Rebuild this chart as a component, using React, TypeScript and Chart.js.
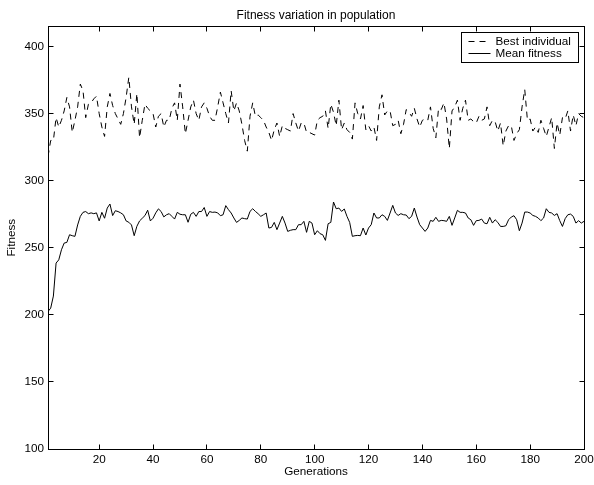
import React, { useEffect, useRef } from 'react';
import { Chart, registerables } from 'chart.js';

Chart.register(...registerables);

const chartTitle = 'Fitness variation in population';
const xTitle = 'Generations';
const yTitle = 'Fitness';
const seriesNames = ['Best individual', 'Mean fitness'];

const generations = Array.from({ length: 200 }, (_, i) => i + 1);

const bestIndividual = [
  318, 330, 330, 347, 340, 345, 352, 362, 355, 336,
  345, 355, 372, 367, 347, 357, 358, 361, 363, 350,
  340, 333, 355, 365, 356, 350, 346, 342, 350, 362,
  377, 355, 342, 365, 332, 345, 357, 354, 352, 350,
  340, 348, 350, 340, 345, 345, 354, 358, 345, 372,
  355, 335, 345, 355, 360, 350, 345, 355, 358, 354,
  348, 345, 345, 355, 366, 358, 350, 343, 367, 352,
  358, 352, 342, 330, 322, 348, 358, 348, 349, 347,
  345, 340, 336, 330, 338, 343, 333, 341, 339, 338,
  337, 350, 343, 337, 343, 343, 336, 336, 335, 334,
  345, 347, 348, 352, 339, 357, 351, 341, 360, 338,
  343, 338, 336, 331, 358, 350, 346, 356, 338, 341,
  337, 340, 330, 355, 364, 349, 352, 352, 341, 342,
  345, 335, 342, 353, 351, 348, 354, 346, 340, 345,
  346, 345, 355, 339, 332, 354, 353, 358, 346, 324,
  352, 355, 360, 345, 354, 360, 345, 346, 344, 343,
  348, 345, 346, 355, 341, 345, 344, 337, 343, 326,
  337, 341, 341, 330, 335, 338, 355, 368, 345, 346,
  337, 340, 336, 345, 339, 333, 340, 347, 324, 343,
  334, 347, 346, 352, 337, 349, 341, 350, 348, 347,
];

const meanFitness = [
  202.5, 205, 214, 238.6, 241, 248.5, 253.5, 254, 259.7, 259,
  258.5, 267, 273.4, 276.4, 277, 275.4, 276, 275.4, 276, 270,
  276.4, 272, 279.6, 282.6, 274, 277.6, 277, 276, 274.6, 270,
  269, 267, 259, 266, 270, 272, 274, 278, 270, 272,
  276, 279, 277, 273, 274.6, 275.4, 273.4, 271.4, 276.4, 275,
  274.6, 274.6, 269, 275, 276.4, 273.4, 277, 277, 280, 273.4,
  277, 276.4, 276.6, 276, 273.9, 274.6, 281.4, 278.4, 275.9, 272.2,
  268.9, 270.4, 272.2, 271.7, 271.4, 277.1, 279.1, 277.1, 275.4, 273.4,
  274.6, 275.9, 264.7, 265.2, 268.9, 263.5, 268.4, 273.4, 268.4, 262.2,
  263, 263.5, 263.5, 267.2, 267.2, 269.7, 261.5, 269.7, 268.4, 259.7,
  262.7, 260.5, 259.7, 255.5, 267.9, 268.9, 284.1, 279.1, 279.6, 277.1,
  278.9, 273.4, 268.9, 258.5, 259, 259.2, 259, 264.7, 259.5, 264.7,
  267.2, 275.9, 272.2, 272.2, 274.6, 273.4, 270.4, 275.9, 281.6, 275.9,
  274.1, 275.4, 274.6, 274.4, 271.7, 273.4, 279.6, 272.9, 267.2, 264.7,
  262.2, 264.7, 270.4, 269.7, 272.7, 269.7, 270.4, 270.2, 269.7, 273.4,
  266.7, 272.2, 277.9, 276.4, 276.4, 275.9, 272.2, 270.9, 266.7, 270.2,
  270.4, 271.4, 268.4, 267.9, 272.7, 268.4, 270.9, 268.9, 265.9, 265.9,
  266.4, 270.9, 272.9, 273.9, 270.9, 262.7, 268.4, 276.6, 276.6, 275.9,
  274.1, 273.4, 272.2, 270.2, 272.2, 279.1, 276.4, 275.9, 274.1, 275.4,
  270.2, 265.9, 271.7, 274.6, 275.1, 273.4, 268.4, 270.2, 268.4, 269.7,
];

const xTicks = [20, 40, 60, 80, 100, 120, 140, 160, 180, 200];
const yTicks = [100, 150, 200, 250, 300, 350, 400];

const FONT = "'Liberation Sans', Arial, Helvetica, sans-serif";

const framePlugin = {
  id: 'frame',
  afterDatasetsDraw(chart: any) {
    const { ctx, chartArea: a, scales } = chart;
    const L = Math.floor(a.left) + 0.5;
    const R = Math.floor(a.right) + 0.5;
    const T = Math.floor(a.top) + 0.5;
    const B = Math.floor(a.bottom) + 0.5;
    ctx.save();
    ctx.strokeStyle = '#000';
    ctx.lineWidth = 1;
    ctx.setLineDash([]);
    ctx.strokeRect(L, T, R - L, B - T);
    ctx.beginPath();
    for (const v of xTicks) {
      const px = Math.floor(scales.x.getPixelForValue(v)) + 0.5;
      ctx.moveTo(px, B); ctx.lineTo(px, B - 5);
      ctx.moveTo(px, T); ctx.lineTo(px, T + 5);
    }
    for (const v of yTicks) {
      const py = Math.floor(scales.y.getPixelForValue(v)) + 0.5;
      ctx.moveTo(L, py); ctx.lineTo(L + 5, py);
      ctx.moveTo(R, py); ctx.lineTo(R - 5, py);
    }
    ctx.stroke();

    // legend
    const w = 117, h = 30;
    const x0 = R - 6 - w;
    const y0 = T + 6;
    ctx.fillStyle = '#fff';
    ctx.fillRect(x0, y0, w, h);
    ctx.strokeRect(x0, y0, w, h);
    ctx.font = `11.7px ${FONT}`;
    ctx.textBaseline = 'middle';
    ctx.textAlign = 'left';
    chart.data.datasets.forEach((ds: any, i: number) => {
      const yy = Math.floor(y0 + 8.5 + i * 12.6) + 0.5;
      ctx.setLineDash(ds.borderDash || []);
      ctx.beginPath();
      ctx.moveTo(x0 + 7, yy);
      ctx.lineTo(x0 + 29, yy);
      ctx.stroke();
      ctx.setLineDash([]);
      ctx.fillStyle = '#000';
      ctx.fillText(ds.label, x0 + 34, yy + 0.5);
    });
    ctx.restore();
  },
};

export default function App() {
  const ref = useRef<HTMLCanvasElement | null>(null);

  useEffect(() => {
    if (!ref.current) return;
    const chart = new Chart(ref.current, {
      type: 'line',
      data: {
        datasets: [
          {
            label: seriesNames[0],
            data: generations.map((g, i) => ({ x: g, y: bestIndividual[i] })),
            borderColor: '#000',
            borderWidth: 1,
            borderDash: [6, 5],
            pointRadius: 0,
            tension: 0,
            fill: false,
          },
          {
            label: seriesNames[1],
            data: generations.map((g, i) => ({ x: g, y: meanFitness[i] })),
            borderColor: '#000',
            borderWidth: 1,
            pointRadius: 0,
            tension: 0,
            fill: false,
          },
        ],
      },
      options: {
        animation: false,
        responsive: false,
        devicePixelRatio: 1,
        layout: { padding: { left: 0, right: 10, top: 0, bottom: 0 } },
        plugins: {
          legend: { display: false },
          tooltip: { enabled: false },
          title: {
            display: true,
            text: chartTitle,
            fullSize: false,
            color: '#000',
            font: { family: FONT, size: 12, weight: 'normal' },
            padding: { top: 8, bottom: 4 },
          },
        },
        scales: {
          x: {
            type: 'linear',
            min: 1,
            max: 200,
            afterBuildTicks: (s: any) => { s.ticks = xTicks.map((v) => ({ value: v })); },
            afterFit: (s: any) => { s.height = 36; s.paddingLeft = 0; s.paddingRight = 0; },
            grid: { display: false, drawTicks: false },
            border: { display: false },
            ticks: { color: '#000', font: { family: FONT, size: 11.7 }, padding: 4, maxRotation: 0, autoSkip: false },
            title: { display: true, text: xTitle, color: '#000', font: { family: FONT, size: 11.7 }, padding: { top: 0, bottom: 6 } },
          },
          y: {
            type: 'linear',
            min: 100,
            max: 415,
            afterBuildTicks: (s: any) => { s.ticks = yTicks.map((v) => ({ value: v })); },
            afterFit: (s: any) => { s.width = 48; s.paddingTop = 0; s.paddingBottom = 0; },
            grid: { display: false, drawTicks: false },
            border: { display: false },
            ticks: { color: '#000', font: { family: FONT, size: 11.7 }, padding: 4, autoSkip: false },
            title: { display: true, text: yTitle, color: '#000', font: { family: FONT, size: 11.7 }, padding: { top: 5, bottom: 0 } },
          },
        },
      },
      plugins: [framePlugin],
    } as any);
    return () => chart.destroy();
  }, []);

  return (
    <div style={{ position: 'fixed', left: 0, top: 0, width: 594, height: 485, background: '#fff' }}>
      <canvas ref={ref} width={594} height={485} style={{ width: 594, height: 485, display: 'block' }} />
    </div>
  );
}
